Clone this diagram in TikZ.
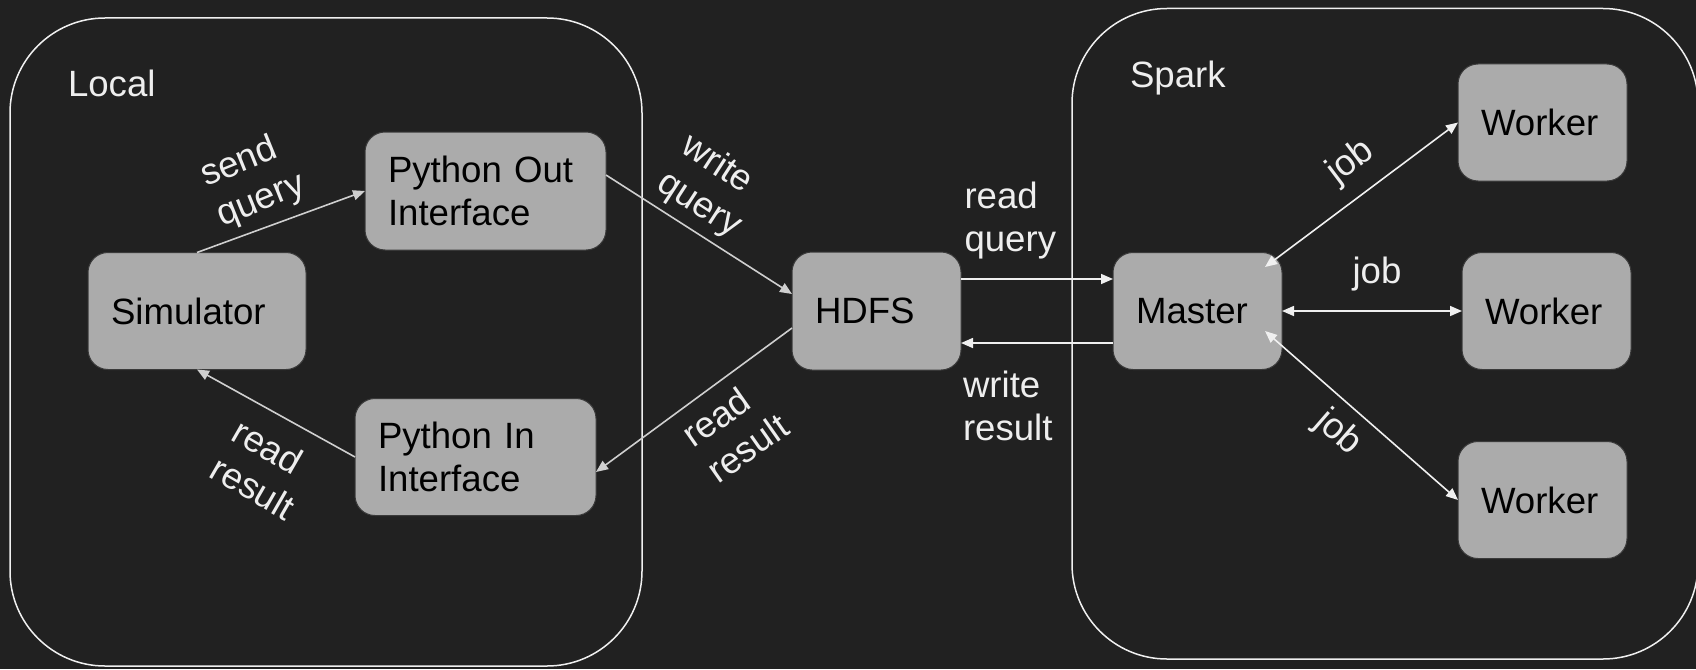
\documentclass[tikz,border=0pt]{standalone}
\usepackage{fontspec}
\setmainfont{Liberation Sans}
\usetikzlibrary{arrows.meta,calc}
\definecolor{bg}{HTML}{212121}
\definecolor{boxfill}{HTML}{ABABAB}
\definecolor{boxedge}{HTML}{3A3A3A}
\definecolor{dimline}{HTML}{CFCFCF}
\definecolor{brightline}{HTML}{F0F0F0}
\definecolor{labeltext}{HTML}{EEEEEE}
\begin{document}
\begin{tikzpicture}[x=1pt,y=-1pt,
  every node/.style={inner sep=0pt, outer sep=0pt},
  box/.style={draw=boxedge, line width=1pt, fill=boxfill, rounded corners=20pt,
    align=left, inner xsep=23pt, font=\fontsize{36.6}{43}\selectfont, text=black},
  container/.style={draw=brightline, line width=1.5pt, rounded corners=95pt},
  lbl/.style={text=labeltext, align=left, font=\fontsize{36.6}{43}\selectfont},
  tip/.tip={Triangle[length=12pt,width=10pt]},
  conn/.style={line width=1.6pt, -tip},
  dconn/.style={line width=1.6pt, tip-tip},
]
\useasboundingbox (0,0) rectangle (1696,669);
\fill[bg] (0,0) rectangle (1696,669);

% containers
\node[container, minimum width=632pt, minimum height=648pt] (local) at (326,342) {};
\node[container, minimum width=626pt, minimum height=650.5pt] (spark) at (1385,333.75) {};
\node[lbl, anchor=base west] (localtitle) at (68,96) {Local};
\node[lbl, anchor=base west] (sparktitle) at (1130,87) {Spark};

% boxes
\node[box, text width=195pt, minimum height=118pt] (pyout) at (485.5,191) {Python Out\\Interface};
\node[box, text width=172pt, minimum height=117pt] (sim) at (197,311) {Simulator};
\node[box, text width=195pt, minimum height=117pt] (pyin) at (475.5,457) {Python In\\Interface};
\node[box, text width=123pt, minimum height=118pt] (hdfs) at (876.5,311) {HDFS};
\node[box, text width=123pt, minimum height=117pt] (master) at (1197.5,311) {Master};
\node[box, text width=123pt, minimum height=117pt] (w1) at (1542.5,122.5) {Worker};
\node[box, text width=123pt, minimum height=117pt] (w2) at (1546.5,311) {Worker};
\node[box, text width=123pt, minimum height=117pt] (w3) at (1542.5,500) {Worker};

% connectors
\draw[conn, dimline] (sim.north) -- (pyout.west);
\draw[conn, dimline] (pyin.west) -- (sim.south);
\draw[conn, dimline] ([yshift=16pt]pyout.east) -- ([yshift=17pt]hdfs.west);
\draw[conn, dimline] ([yshift=-17pt]hdfs.west) -- ([yshift=-15pt]pyin.east);
\draw[conn, brightline] ([yshift=32pt]hdfs.east) -- ([yshift=32pt]master.west);
\draw[conn, brightline] ([yshift=-32pt]master.west) -- ([yshift=-32pt]hdfs.east);
\draw[dconn, brightline] ([xshift=67.5pt,yshift=44pt]master.center) -- (w1.west);
\draw[dconn, brightline] (master.east) -- (w2.west);
\draw[dconn, brightline] ([xshift=67.5pt,yshift=-20pt]master.center) -- (w3.west);

% connector labels
\node[lbl, rotate=22] (lsend) at (253,181) {send\\query};
\node[lbl, rotate=-30] (lreadres1) at (264,469) {read\\result};
\node[lbl, rotate=-33] (lwriteq) at (711,187) {write\\query};
\node[lbl, rotate=35] (lreadres2) at (735,430) {read\\result};
\node[lbl, anchor=west] (lreadq) at (964.5,221) {read\\query};
\node[lbl, anchor=west] (lwriteres) at (963,406) {write\\result};
\node[lbl, rotate=37] (ljob1) at (1351,162) {job};
\node[lbl] (ljob2) at (1377,274) {job};
\node[lbl, rotate=-41] (ljob3) at (1338,433) {job};
\end{tikzpicture}
\end{document}
